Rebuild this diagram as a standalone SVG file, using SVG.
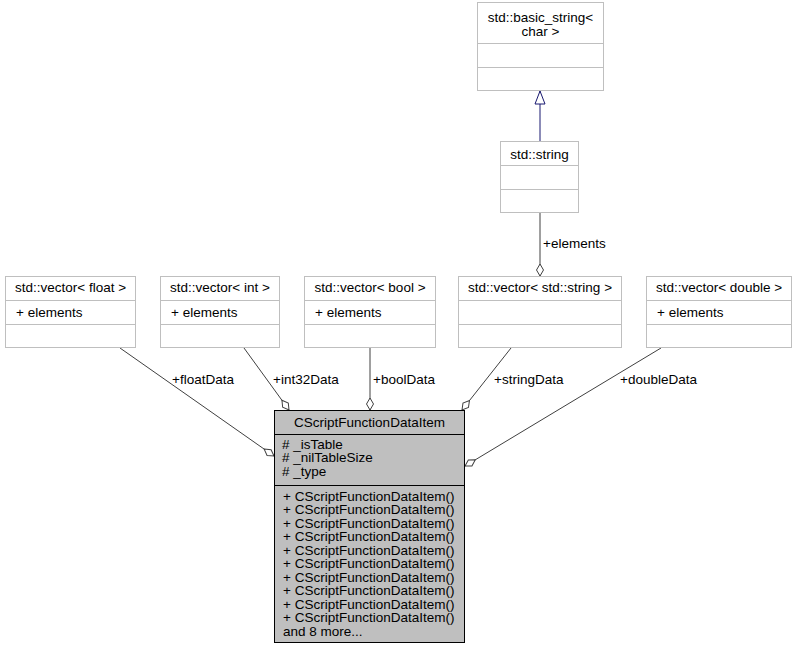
<svg xmlns="http://www.w3.org/2000/svg" width="797" height="649" viewBox="0 0 797 649">
<style>
text{font-family:"Liberation Sans",Arial,sans-serif;font-size:13.5px;fill:#000}
.c{text-anchor:middle}
.box{fill:#fff;stroke:#bfbfbf;stroke-width:1}
.sep{stroke:#bfbfbf;stroke-width:1}
.main{fill:#bfbfbf;stroke:#000;stroke-width:1}
.msep{stroke:#000;stroke-width:1}
.agg{fill:none;stroke:#404040;stroke-width:1;marker-end:url(#odiamond)}
.gen{fill:none;stroke:#191970;stroke-width:1;marker-end:url(#otri)}
</style>
<defs>
<marker id="odiamond" viewBox="-1 -5 14 10" refX="12" refY="0" markerWidth="14" markerHeight="10" markerUnits="userSpaceOnUse" orient="auto">
<path d="M0,0 L6,-3.5 L12,0 L6,3.5 Z" fill="#fff" stroke="#404040" stroke-width="1"/>
</marker>
<marker id="otri" viewBox="-1 -6 15 12" refX="13" refY="0" markerWidth="15" markerHeight="12" markerUnits="userSpaceOnUse" orient="auto">
<path d="M0,-5 L13,0 L0,5 Z" fill="#fff" stroke="#191970" stroke-width="1"/>
</marker>
</defs>
<rect width="797" height="649" fill="#fff"/>
<g id="connectors">
<path class="gen" d="M540,142 L540,91"/>
<path class="agg" d="M540,212 L540,276"/>
<path class="agg" d="M120,348 L274,456"/>
<path class="agg" d="M244,348 L289,410"/>
<path class="agg" d="M370,348 L370,410"/>
<path class="agg" d="M511,348 L462,410"/>
<path class="agg" d="M661,348 L465,466"/>
<text x="543" y="248">+elements</text>
<text x="172" y="384">+floatData</text>
<text x="273" y="384">+int32Data</text>
<text x="373" y="384">+boolData</text>
<text x="494" y="384">+stringData</text>
<text x="620" y="384">+doubleData</text>
</g>
<g id="basic_string">
<rect class="box" x="477.5" y="2.5" width="126" height="88"/>
<line class="sep" x1="477.5" y1="43.5" x2="603.5" y2="43.5"/>
<line class="sep" x1="477.5" y1="67.5" x2="603.5" y2="67.5"/>
<text class="c" x="540.5" y="21.5">std::basic_string&lt;</text>
<text class="c" x="540.5" y="35.5">char &gt;</text>
</g>
<g id="std_string">
<rect class="box" x="500.5" y="141.5" width="78" height="71"/>
<line class="sep" x1="500.5" y1="165.5" x2="578.5" y2="165.5"/>
<line class="sep" x1="500.5" y1="189.5" x2="578.5" y2="189.5"/>
<text class="c" x="539.5" y="159">std::string</text>
</g>
<g id="vector_float">
<rect class="box" x="5.5" y="276.5" width="130" height="71"/>
<line class="sep" x1="5.5" y1="300.5" x2="135.5" y2="300.5"/>
<line class="sep" x1="5.5" y1="324.5" x2="135.5" y2="324.5"/>
<text class="c" x="70.5" y="292">std::vector&lt; float &gt;</text>
<text x="16" y="317">+ elements</text>
</g>
<g id="vector_int">
<rect class="box" x="160.5" y="276.5" width="119" height="71"/>
<line class="sep" x1="160.5" y1="300.5" x2="279.5" y2="300.5"/>
<line class="sep" x1="160.5" y1="324.5" x2="279.5" y2="324.5"/>
<text class="c" x="220" y="292">std::vector&lt; int &gt;</text>
<text x="171" y="317">+ elements</text>
</g>
<g id="vector_bool">
<rect class="box" x="304.5" y="276.5" width="131" height="71"/>
<line class="sep" x1="304.5" y1="300.5" x2="435.5" y2="300.5"/>
<line class="sep" x1="304.5" y1="324.5" x2="435.5" y2="324.5"/>
<text class="c" x="370" y="292">std::vector&lt; bool &gt;</text>
<text x="315" y="317">+ elements</text>
</g>
<g id="vector_string">
<rect class="box" x="458.5" y="276.5" width="163" height="71"/>
<line class="sep" x1="458.5" y1="300.5" x2="621.5" y2="300.5"/>
<line class="sep" x1="458.5" y1="324.5" x2="621.5" y2="324.5"/>
<text class="c" x="540" y="292">std::vector&lt; std::string &gt;</text>
</g>
<g id="vector_double">
<rect class="box" x="646.5" y="276.5" width="145" height="71"/>
<line class="sep" x1="646.5" y1="300.5" x2="791.5" y2="300.5"/>
<line class="sep" x1="646.5" y1="324.5" x2="791.5" y2="324.5"/>
<text class="c" x="719" y="292">std::vector&lt; double &gt;</text>
<text x="657" y="317">+ elements</text>
</g>
<g id="CScriptFunctionDataItem">
<rect class="main" x="274.5" y="410.5" width="190" height="232"/>
<line class="msep" x1="274.5" y1="434.5" x2="464.5" y2="434.5"/>
<line class="msep" x1="274.5" y1="485.5" x2="464.5" y2="485.5"/>
<text class="c" x="369.5" y="427">CScriptFunctionDataItem</text>
<text x="282" y="448.5">#  _isTable</text>
<text x="282" y="462">#  _nilTableSize</text>
<text x="282" y="475.5">#  _type</text>
<text x="283" y="500.5">+ CScriptFunctionDataItem()</text>
<text x="283" y="514">+ CScriptFunctionDataItem()</text>
<text x="283" y="527.5">+ CScriptFunctionDataItem()</text>
<text x="283" y="541">+ CScriptFunctionDataItem()</text>
<text x="283" y="554.5">+ CScriptFunctionDataItem()</text>
<text x="283" y="568">+ CScriptFunctionDataItem()</text>
<text x="283" y="581.5">+ CScriptFunctionDataItem()</text>
<text x="283" y="595">+ CScriptFunctionDataItem()</text>
<text x="283" y="608.5">+ CScriptFunctionDataItem()</text>
<text x="283" y="622">+ CScriptFunctionDataItem()</text>
<text x="283" y="635.5">and 8 more...</text>
</g>
</svg>
